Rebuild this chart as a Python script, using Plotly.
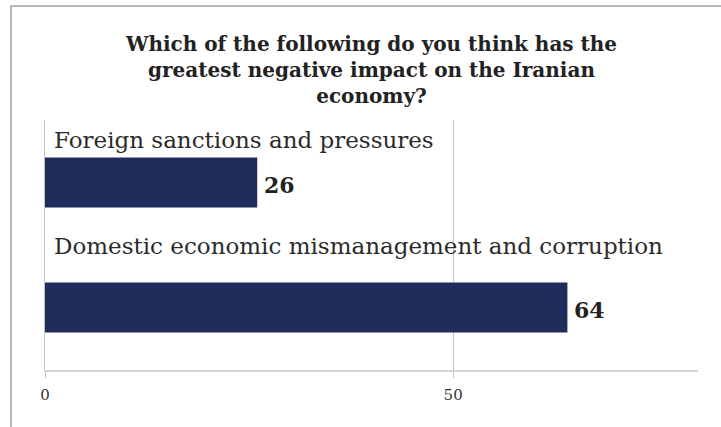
import plotly.graph_objects as go

categories = ["Foreign sanctions and pressures",
              "Domestic economic mismanagement and corruption"]
values = [26, 64]
x_ticks = [0, 50]
title_text = ("Which of the following do you think has the<br>"
              "greatest negative impact on the Iranian<br>economy?")

FONT = "DejaVu Serif"
BAR_COLOR = "#202c5c"
label_offsets = [43, 62]

fig = go.Figure()
fig.add_trace(go.Bar(
    y=categories, x=values, orientation="h",
    marker=dict(color=BAR_COLOR, line=dict(width=0)),
    width=0.4, hoverinfo="skip"))

annotations = []
for cat, val, off in zip(categories, values, label_offsets):
    annotations.append(dict(x=0, y=cat, xref="x", yref="y", text=cat,
                            showarrow=False, xanchor="left", yanchor="middle",
                            xshift=7, yshift=off,
                            font=dict(family=FONT, size=23, color="#2b2b2b")))
    annotations.append(dict(x=val, y=cat, xref="x", yref="y",
                            text="<b>%d</b>" % val, showarrow=False,
                            xanchor="left", yanchor="middle", xshift=5, yshift=-2,
                            font=dict(family=FONT, size=22, color="#222222")))

fig.update_layout(
    width=721, height=427,
    margin=dict(l=45, r=23, t=120, b=57),
    paper_bgcolor="white", plot_bgcolor="white",
    showlegend=False,
    title=dict(text="<b>" + title_text + "</b>", x=0.5, xref="paper",
               xanchor="center", y=0.88, yanchor="top",
               font=dict(family=FONT, size=20, color="#222222")),
    xaxis=dict(range=[0, 80], tickvals=x_ticks, showgrid=True,
               gridcolor="#c4c4c4", gridwidth=1, zeroline=False,
               showline=True, linecolor="#d6d6d6", linewidth=2,
               ticks="outside", ticklen=6, tickcolor="#c4c4c4",
               ticklabelstandoff=4,
               tickfont=dict(family=FONT, size=15, color="#333333")),
    yaxis=dict(range=[1.5, -0.5], autorange=False, showticklabels=False,
               showgrid=False, zeroline=False, showline=True,
               linecolor="#c4c4c4", linewidth=1),
    annotations=annotations,
    shapes=[dict(type="rect", xref="paper", yref="paper",
                 x0=-34/653, x1=1.2, y0=-0.5, y1=(370-6)/250,
                 line=dict(color="#a0a0a0", width=1.5), layer="below")],
)

fig.write_html("out.html", config={"displayModeBar": False},
               post_script="document.body.style.margin='0';")
